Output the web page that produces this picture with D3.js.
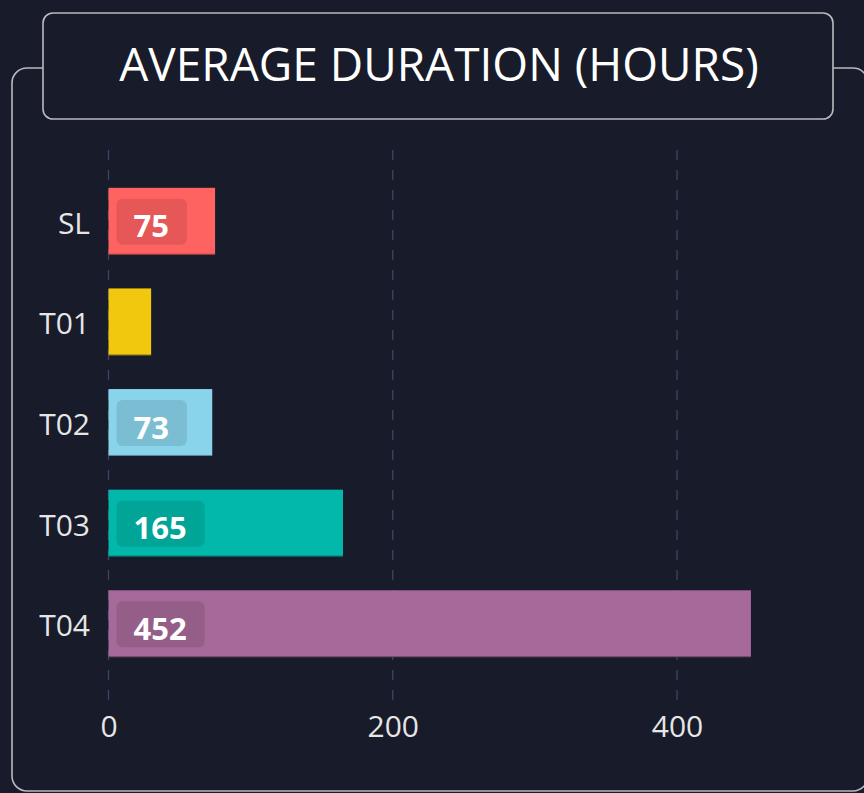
<!DOCTYPE html>
<html>
<head>
<meta charset="utf-8">
<script src="https://cdn.jsdelivr.net/npm/d3@7"></script>
<style>
  html, body { margin: 0; padding: 0; background: #181b29; }
  svg { display: block; }
</style>
</head>
<body>
<svg></svg>
<script>
// chart data
var categories = ["SL", "T01", "T02", "T03", "T04"];
var durations = [75, 30, 73, 165, 452];
var barColors = ["#ff6361", "#f2c80f", "#8ad4eb", "#01b8aa", "#a66999"];
var xTicks = [0, 200, 400];
var title = "AVERAGE DURATION (HOURS)";

var W = 864, H = 793;
var svg = d3.select("svg").attr("width", W).attr("height", H);

// outer panel
svg.append("rect")
  .attr("x", 12).attr("y", 68)
  .attr("width", 856).attr("height", 723)
  .attr("rx", 15).attr("ry", 15)
  .style("fill", "#181b29")
  .style("stroke", "#b9bbbf")
  .style("stroke-width", 1.6);

// title box
svg.append("rect")
  .attr("x", 43).attr("y", 13)
  .attr("width", 790).attr("height", 106)
  .attr("rx", 10).attr("ry", 10)
  .style("fill", "#181b29")
  .style("stroke", "#b9bbbf")
  .style("stroke-width", 1.6);

svg.append("text")
  .attr("x", 439).attr("y", 81)
  .attr("text-anchor", "middle")
  .style("font-family", "'Open Sans', sans-serif")
  .style("font-size", "46px")
  .style("fill", "#ffffff")
  .text(title);

var x = d3.scaleLinear().domain([0, 400]).range([108.5, 677]);
var y = d3.scaleBand().domain(categories).range([171, 674]).paddingInner(0.335).paddingOuter(0.167);

// grid lines
svg.append("g").selectAll("line")
  .data(xTicks)
  .enter().append("line")
  .attr("x1", function(d){ return x(d); })
  .attr("x2", function(d){ return x(d); })
  .attr("y1", 150).attr("y2", 700)
  .style("stroke", "#3c4468")
  .style("stroke-width", 1.3)
  .style("stroke-dasharray", "10,10");

// x axis labels
var xAxis = d3.axisBottom(x).tickValues(xTicks).tickSize(0).tickPadding(0);
var gx = svg.append("g").attr("transform", "translate(0,716)").call(xAxis);
gx.select(".domain").remove();
gx.selectAll("text")
  .style("font-family", "'Open Sans', sans-serif")
  .style("font-size", "30px")
  .style("fill", "#e6e6e6");

// y axis labels
var yAxis = d3.axisLeft(y).tickSize(0).tickPadding(0);
var gy = svg.append("g").attr("transform", "translate(90,3)").call(yAxis);
gy.select(".domain").remove();
gy.selectAll("text")
  .style("font-family", "'Open Sans', sans-serif")
  .style("font-size", "30px")
  .style("fill", "#e6e6e6");

// bars
var bars = svg.append("g").selectAll("g.bar")
  .data(categories)
  .enter().append("g").attr("class", "bar");

bars.append("rect")
  .attr("x", x(0))
  .attr("y", function(d){ return y(d); })
  .attr("width", function(d, i){ return x(durations[i]) - x(0); })
  .attr("height", y.bandwidth())
  .style("fill", function(d, i){ return barColors[i]; });

bars.append("line")
  .attr("x1", x(0))
  .attr("x2", function(d, i){ return x(durations[i]); })
  .attr("y1", function(d){ return y(d) + y.bandwidth() - 0.5; })
  .attr("y2", function(d){ return y(d) + y.bandwidth() - 0.5; })
  .style("stroke", "rgba(0,0,0,0.35)")
  .style("stroke-width", 1);

// value badges (skip bars too short)
bars.each(function(d, i){
  if (x(durations[i]) - x(0) < 60) return;
  var g = d3.select(this);
  var badge = g.append("rect")
    .attr("x", x(0) + 8)
    .attr("y", y(d) + 11)
    .attr("height", 46)
    .attr("rx", 6).attr("ry", 6)
    .style("fill", "rgba(0,0,0,0.1)");
  var t = g.append("text")
    .attr("x", x(0) + 25)
    .attr("y", y(d) + y.bandwidth() / 2 + 4)
    .attr("dominant-baseline", "central")
    .style("font-family", "'Open Sans', sans-serif")
    .style("font-weight", "bold")
    .style("font-size", "31px")
    .style("fill", "#ffffff")
    .text(durations[i]);
  var w = t.node().getComputedTextLength();
  badge.attr("width", w + 35);
});
</script>
</body>
</html>
